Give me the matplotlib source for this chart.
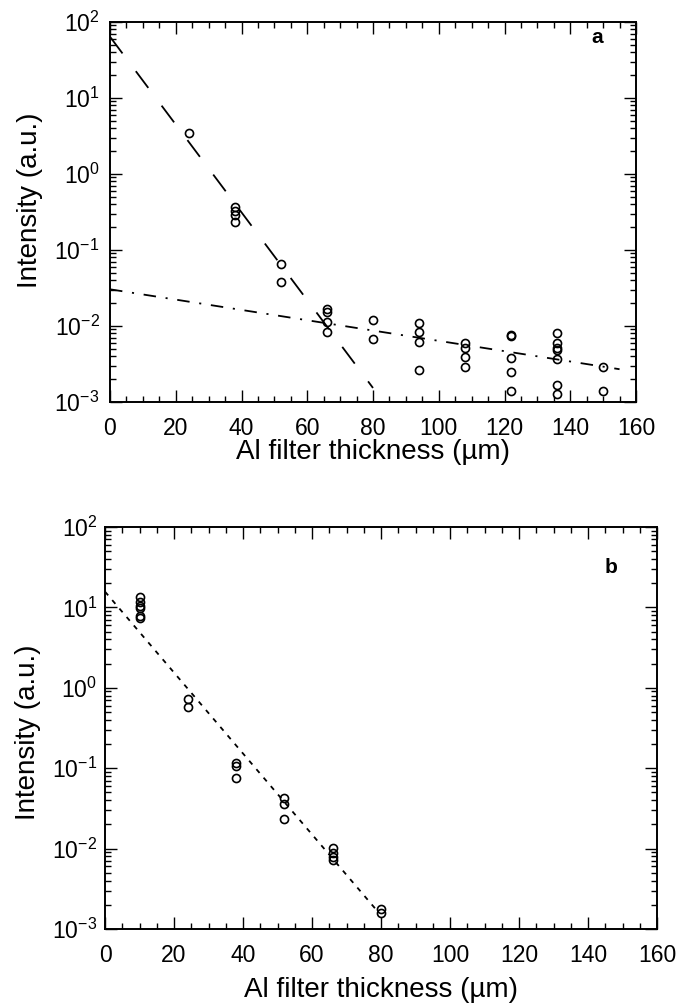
import matplotlib
matplotlib.use("Agg")
import matplotlib.pyplot as plt
from matplotlib.ticker import LogLocator, LogFormatterMathtext, MultipleLocator, NullFormatter

plt.rcParams['font.family'] = ['Liberation Sans', 'DejaVu Sans']
plt.rcParams['mathtext.fontset'] = 'custom'
plt.rcParams['mathtext.rm'] = 'Liberation Sans'
plt.rcParams['mathtext.it'] = 'Liberation Sans'
plt.rcParams['mathtext.bf'] = 'Liberation Sans:bold'
plt.rcParams['lines.scale_dashes'] = False

# ---------------- data ----------------
# Panel a: measured intensities
a_x = [24,
       38, 38, 38, 38,
       52, 52,
       66, 66, 66, 66,
       80, 80,
       94, 94, 94, 94,
       108, 108, 108, 108,
       122, 122, 122, 122, 122,
       136, 136, 136, 136, 136, 136, 136,
       150, 150]
a_y = [3.5,
       0.365, 0.33, 0.29, 0.236,
       0.065, 0.0376,
       0.0166, 0.0154, 0.0114, 0.0084,
       0.012, 0.0067,
       0.011, 0.0083, 0.0062, 0.0026,
       0.0059, 0.0052, 0.0039, 0.0029,
       0.0075, 0.0073, 0.0038, 0.0025, 0.0014,
       0.008, 0.0059, 0.0052, 0.0048, 0.00365, 0.00167, 0.00126,
       0.0029, 0.0014]
# Panel a fit lines (endpoints)
a_fast_x = [0, 80]
a_fast_y = [64, 0.00153]
a_slow_x = [0, 155]
a_slow_y = [0.0304, 0.0027]

# Panel b: measured intensities
b_x = [10, 10, 10, 10, 10, 10,
       24, 24,
       38, 38, 38,
       52, 52, 52,
       66, 66, 66, 66,
       80, 80]
b_y = [13.4, 11.8, 10.4, 9.9, 7.8, 7.45,
       0.73, 0.58,
       0.115, 0.106, 0.076,
       0.042, 0.0359, 0.0231,
       0.0101, 0.0089, 0.0079, 0.0072,
       0.00176, 0.00157]
b_fit_x = [0, 78.3]
b_fit_y = [15.7, 0.0018]

x_ticks = [0, 20, 40, 60, 80, 100, 120, 140, 160]
x_label = "Al filter thickness (\u00b5m)"
y_label = "Intensity (a.u.)"

# ---------------- figure ----------------
W, H = 679, 1006
fig = plt.figure(figsize=(W / 100, H / 100), dpi=100)

def rect(l, t, r, b):
    return [l / W, 1 - b / H, (r - l) / W, (b - t) / H]

ax_a = fig.add_axes(rect(110, 22, 636, 402))
ax_b = fig.add_axes(rect(105, 527, 657, 929))

def style(ax, letter, letter_xy, xlab_y, ylab_xy, ypad):
    ax.set_yscale('log')
    ax.set_xlim(0, 160)
    ax.set_ylim(1e-3, 1e2)
    ax.set_xticks(x_ticks)
    ax.xaxis.set_minor_locator(MultipleLocator(5))
    ax.yaxis.set_major_locator(LogLocator(base=10, numticks=10))
    ax.yaxis.set_major_formatter(LogFormatterMathtext())
    ax.yaxis.set_minor_locator(LogLocator(base=10, subs=range(2, 10), numticks=20))
    ax.yaxis.set_minor_formatter(NullFormatter())
    ax.tick_params(which='both', direction='in', top=True, right=True,
                   colors='black', width=1.0)
    ax.tick_params(which='major', length=8.5, labelsize=16.5)
    ax.tick_params(axis='x', which='major', pad=10.5)
    ax.tick_params(axis='y', which='major', pad=ypad)
    ax.tick_params(which='minor', length=4)
    for s in ax.spines.values():
        s.set_linewidth(1.4)
    ax.set_xlabel(x_label, fontsize=20)
    ax.set_ylabel(y_label, fontsize=20)
    ax.xaxis.set_label_coords(0.5, xlab_y)
    ax.xaxis.label.set_va('center')
    ax.yaxis.set_label_coords(*ylab_xy)
    ax.yaxis.label.set_va('center')
    ax.text(letter_xy[0], letter_xy[1], letter, transform=ax.transAxes,
            fontsize=15, fontweight='bold', ha='center', va='center')

ax_a.plot(a_fast_x, a_fast_y, color='black', lw=1.3, dashes=(15, 16))
ax_a.plot(a_slow_x, a_slow_y, color='black', lw=1.3, dashes=(9, 7, 1.5, 7))
ax_a.plot(a_x, a_y, linestyle='none', marker='o', ms=5.8, mfc='none',
          mec='black', mew=1.2)
style(ax_a, 'a', (0.926, 0.96), -0.1316, (-0.153, 0.532), 7.5)

ax_b.plot(b_fit_x, b_fit_y, color='black', lw=1.3, dashes=(3.5, 4.5))
ax_b.plot(b_x, b_y, linestyle='none', marker='o', ms=5.8, mfc='none',
          mec='black', mew=1.2)
style(ax_b, 'b', (0.917, 0.90), -0.1517, (-0.139, 0.49), 5.5)

fig.savefig('out.png', dpi=100)
